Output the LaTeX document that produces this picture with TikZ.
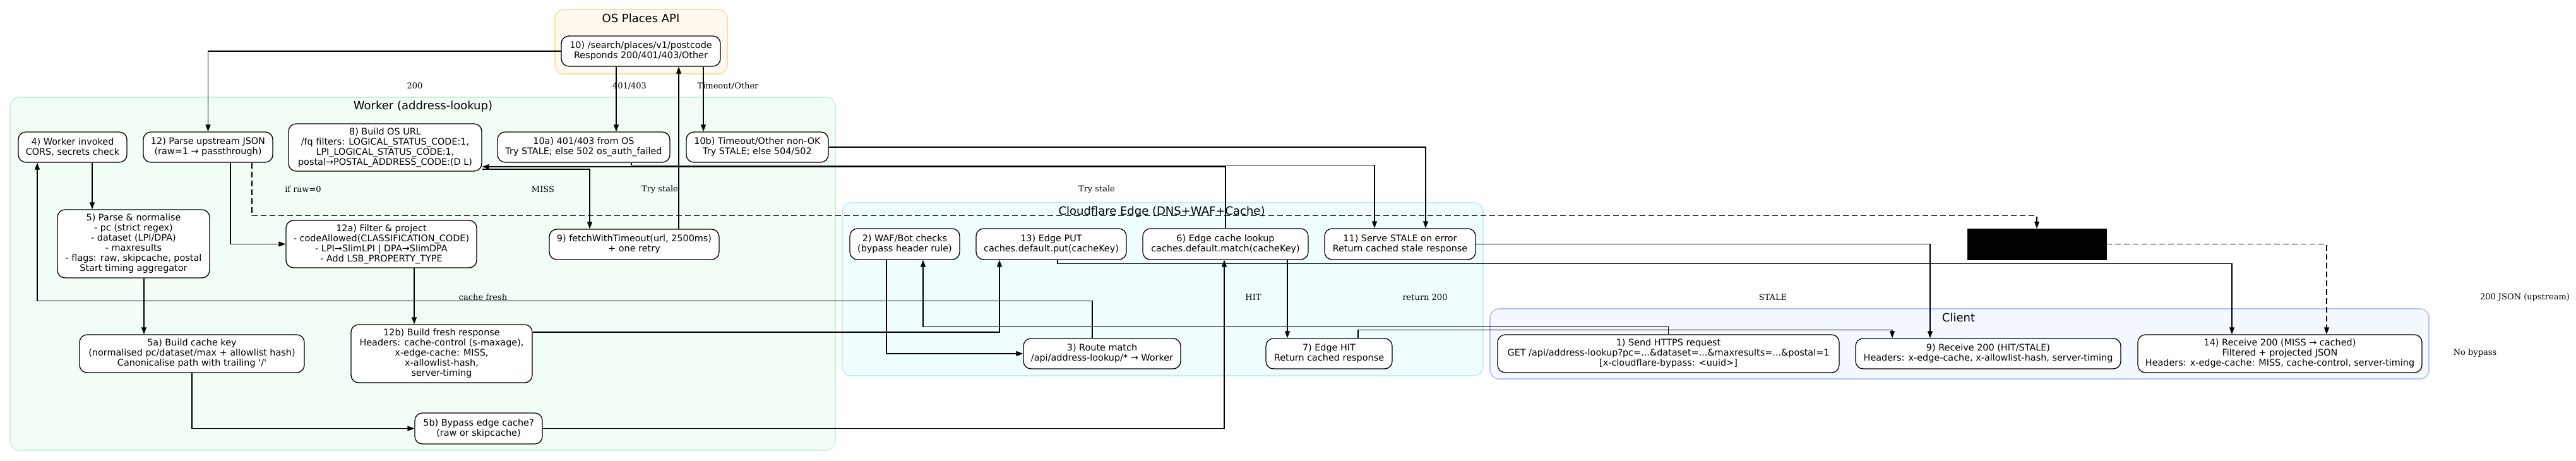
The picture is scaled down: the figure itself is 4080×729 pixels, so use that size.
\documentclass[tikz,border=0pt]{standalone}
\usepackage{fontspec}
\usetikzlibrary{arrows.meta,shapes.misc}
\newfontfamily\stepfont{DejaVu Sans}
\newfontfamily\edgefont{DejaVu Serif}
\definecolor{osfill}{HTML}{FFF9EF}
\definecolor{osline}{HTML}{FFDCA6}
\definecolor{wkfill}{HTML}{F2FDF5}
\definecolor{wkline}{HTML}{C9F2D6}
\definecolor{cffill}{HTML}{EFFDFE}
\definecolor{cfline}{HTML}{C0EEF5}
\definecolor{clfill}{HTML}{F4F8FF}
\definecolor{clline}{HTML}{AAC4FF}
\tikzset{
  stepnode/.style={draw, line width=1.3pt, rounded corners=12pt, fill=white,
    align=center, inner sep=0pt, font=\stepfont\fontsize{14.4pt}{16pt}\selectfont},
  edgelabel/.style={font=\edgefont\fontsize{13pt}{15pt}\selectfont},
  clustertitle/.style={font=\stepfont\fontsize{18pt}{20pt}\selectfont},
  cluster/.style={line width=1.6pt, rounded corners=14pt},
  flow/.style={-{Triangle[length=11pt,width=8pt]}, line width=1.3pt},
  dashflow/.style={flow, dash pattern=on 9pt off 5pt},
}
\begin{document}
\begin{tikzpicture}[x=1pt,y=-1pt]
  \useasboundingbox (0,0) rectangle (4080,729);
  % clusters
  \draw[cluster, draw=osline, fill=osfill] (879,15) rectangle (1152,117);
  \draw[cluster, draw=wkline, fill=wkfill] (16,154) rectangle (1323,713);
  \draw[cluster, draw=cfline, fill=cffill] (1334,321) rectangle (2349,595);
  \draw[cluster, draw=clline, fill=clfill] (2360,489) rectangle (3847,600);
  \node[clustertitle] (osT) at (1015,29) {OS Places API};
  \node[clustertitle] (wkT) at (670,169) {Worker (address-lookup)};
  \node[clustertitle] (cfT) at (1840,336) {Cloudflare Edge (DNS+WAF+Cache)};
  \node[clustertitle] (clT) at (3102,503) {Client};

  % OS Places API
  \node[stepnode, minimum width=252pt, minimum height=48pt] (n10) at (1015,81)
    {10) /search/places/v1/postcode\\Responds 200/401/403/Other};

  % Worker
  \node[stepnode, minimum width=172pt, minimum height=48pt] (n4) at (115,233)
    {4) Worker invoked\\CORS, secrets check};
  \node[stepnode, minimum width=205pt, minimum height=48pt] (n12) at (329.5,233)
    {12) Parse upstream JSON\\(raw=1 → passthrough)};
  \node[stepnode, minimum width=306pt, minimum height=75pt] (n8) at (610,233.5)
    {8) Build OS URL\\/fq filters: LOGICAL\_STATUS\_CODE:1,\\LPI\_LOGICAL\_STATUS\_CODE:1,\\postal→POSTAL\_ADDRESS\_CODE:(D L)};
  \node[stepnode, minimum width=273pt, minimum height=48pt] (n10a) at (924.5,233)
    {10a) 401/403 from OS\\Try STALE; else 502 os\_auth\_failed};
  \node[stepnode, minimum width=225pt, minimum height=48pt] (n10b) at (1199.5,233)
    {10b) Timeout/Other non-OK\\Try STALE; else 504/502};
  \node[stepnode, minimum width=241pt, minimum height=108pt] (n5) at (211.5,386)
    {5) Parse \& normalise\\- pc (strict regex)\\- dataset (LPI/DPA)\\- maxresults\\- flags: raw, skipcache, postal\\Start timing aggregator};
  \node[stepnode, minimum width=302pt, minimum height=75pt] (n12a) at (604,386.5)
    {12a) Filter \& project\\- codeAllowed(CLASSIFICATION\_CODE)\\- LPI→SlimLPI | DPA→SlimDPA\\- Add LSB\_PROPERTY\_TYPE};
  \node[stepnode, minimum width=269pt, minimum height=48pt] (n9w) at (1004.5,387)
    {9) fetchWithTimeout(url, 2500ms)\\+ one retry};
  \node[stepnode, minimum width=356pt, minimum height=60pt] (n5a) at (304,560)
    {5a) Build cache key\\(normalised pc/dataset/max + allowlist hash)\\Canonicalise path with trailing \textquotesingle/\textquotesingle};
  \node[stepnode, minimum width=287pt, minimum height=92pt] (n12b) at (699.5,560)
    {12b) Build fresh response\\Headers: cache-control (s-maxage),\\x-edge-cache: MISS,\\x-allowlist-hash,\\server-timing};
  \node[stepnode, minimum width=202pt, minimum height=49pt] (n5b) at (758,678.5)
    {5b) Bypass edge cache?\\(raw or skipcache)};

  % Cloudflare Edge
  \node[stepnode, minimum width=174pt, minimum height=49pt] (n2) at (1433,386.5)
    {2) WAF/Bot checks\\(bypass header rule)};
  \node[stepnode, minimum width=238pt, minimum height=49pt] (n13) at (1665,386.5)
    {13) Edge PUT\\caches.default.put(cacheKey)};
  \node[stepnode, minimum width=262pt, minimum height=49pt] (n6) at (1941,386.5)
    {6) Edge cache lookup\\caches.default.match(cacheKey)};
  \node[stepnode, minimum width=239pt, minimum height=49pt] (n11) at (2217.5,386.5)
    {11) Serve STALE on error\\Return cached stale response};
  \node[stepnode, minimum width=249pt, minimum height=48pt] (n3) at (1745.5,560)
    {3) Route match\\/api/address-lookup/* → Worker};
  \node[stepnode, minimum width=200pt, minimum height=48pt] (n7) at (2105,560)
    {7) Edge HIT\\Return cached response};

  % Client
  \node[stepnode, minimum width=541pt, minimum height=60pt] (n1) at (2642.5,560)
    {1) Send HTTPS request\\GET /api/address-lookup?pc=...\&dataset=...\&maxresults=...\&postal=1\\{}[x-cloudflare-bypass: <uuid>]};
  \node[stepnode, minimum width=420pt, minimum height=48pt] (n9) at (3149,560)
    {9) Receive 200 (HIT/STALE)\\Headers: x-edge-cache, x-allowlist-hash, server-timing};
  \node[stepnode, minimum width=450pt, minimum height=60pt] (n14) at (3611,560)
    {14) Receive 200 (MISS → cached)\\Filtered + projected JSON\\Headers: x-edge-cache: MISS, cache-control, server-timing};

  \node[chamfered rectangle, chamfered rectangle corners=north east,
    chamfered rectangle xsep=5pt, chamfered rectangle ysep=5pt, inner sep=0pt,
    draw, fill=black, minimum width=220pt, minimum height=49pt] (blk) at (3226,386.5) {};

  % connectors
  \draw[flow] (n10.west) -| (n12.north);
  \draw[flow] ([xshift=-39pt]n10.south) -- ([xshift=51.5pt]n10a.north);
  \draw[flow] ([xshift=99pt]n10.south) -- ([xshift=-85.5pt]n10b.north);
  \draw[flow] ([xshift=70.5pt]n9w.north) -- ([xshift=60pt]n10.south);
  \draw[flow] ([xshift=35.5pt]n12.south) |- (n12a.west);
  \draw[dashflow] ([xshift=69.5pt]n12.south) -- ++(0,84) -| (blk.north);
  \draw[flow] ([yshift=-34.5pt]n8.east) -| ([xshift=-70.5pt]n9w.north);
  \draw[flow] (n6.north) |- ([yshift=-30.5pt]n8.east);
  \draw[flow] ([xshift=75.5pt]n10a.south) -- ++(0,4) -| ([xshift=-40.5pt]n11.north);
  \draw[flow] (n10b.east) -| ([xshift=40.5pt]n11.north);
  \draw[flow] ([xshift=-15.5pt]n3.north) -- ++(0,-59) -| ([xshift=-56pt]n4.south);
  \draw[flow] ([xshift=31pt]n4.south) -- ([xshift=-65.5pt]n5.north);
  \draw[flow] ([xshift=16.5pt]n5.south) -- ([xshift=-76pt]n5a.north);
  \draw[flow] ([xshift=52pt]n12a.south) -- ([xshift=-43.5pt]n12b.north);
  \draw[flow] ([yshift=34pt]n12b.east) -| ([xshift=-82pt]n13.south);
  \draw[flow] (n5a.south) |- (n5b.west);
  \draw[flow] (n5b.east) -| ([xshift=-2pt]n6.south);
  \draw[flow] (n1.north) -- ++(0,-12) -| ([xshift=29pt]n2.south);
  \draw[flow] ([xshift=-29pt]n2.south) |- (n3.west);
  \draw[flow] ([xshift=98pt]n6.south) -- ([xshift=-66pt]n7.north);
  \draw[flow] ([xshift=46pt]n7.north) -- ++(0,-13) -| ([xshift=-152pt]n9.north);
  \draw[flow] ([xshift=10pt]n13.south) -- ++(0,6) -| ([xshift=-76pt]n14.north);
  \draw[flow] (n11.east) -| ([xshift=-92pt]n9.north);
  \draw[dashflow] (blk.east) -| ([xshift=74pt]n14.north);

  % connector labels
  \node[edgelabel] (l200) at (657,136) {200};
  \node[edgelabel] (l401) at (997,136) {401/403};
  \node[edgelabel] (ltmo) at (1153,136) {Timeout/Other};
  \node[edgelabel] (lraw) at (480,300) {if raw=0};
  \node[edgelabel] (lmiss) at (860,300) {MISS};
  \node[edgelabel] (lstaleA) at (1045,300) {Try stale};
  \node[edgelabel] (lstaleB) at (1737,300) {Try stale};
  \node[edgelabel] (lfresh) at (765,471) {cache fresh};
  \node[edgelabel] (lhit) at (1985,471) {HIT};
  \node[edgelabel] (lret) at (2257,471) {return 200};
  \node[edgelabel] (lstale) at (2808,471) {STALE};
  \node[edgelabel] (ljson) at (3999,471) {200 JSON (upstream)};
  \node[edgelabel] (lnob) at (3920,559) {No bypass};
\end{tikzpicture}
\end{document}
